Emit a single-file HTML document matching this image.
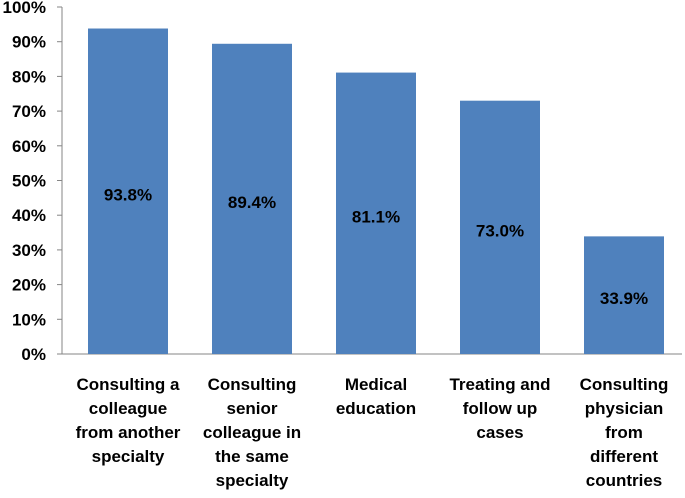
<!DOCTYPE html>
<html><head><meta charset="utf-8"><style>
body{margin:0;background:#fff;}
svg{display:block;font-family:"Liberation Sans",Arial,sans-serif;font-weight:bold;}
</style></head><body>
<svg id="chart" width="685" height="498"></svg>
<script>
const categories=[["Consulting a","colleague","from another","specialty"],["Consulting","senior","colleague in","the same","specialty"],["Medical","education"],["Treating and","follow up","cases"],["Consulting","physician","from","different","countries"]];
const values=[93.8,89.4,81.1,73.0,33.9];
const valueLabels=["93.8%","89.4%","81.1%","73.0%","33.9%"];
const yTicks=[0,10,20,30,40,50,60,70,80,90,100];
const yTickLabels=["0%","10%","20%","30%","40%","50%","60%","70%","80%","90%","100%"];
const NS="http://www.w3.org/2000/svg";
const svg=document.getElementById('chart');
const x0=62,x1=682,yTop=7,yBot=354;
const bw=(x1-x0)/values.length;
function y(v){return yBot-(v/100)*(yBot-yTop);}
function xc(i){return x0+4+bw*(i+0.5);}
function mk(t,a,p){const e=document.createElementNS(NS,t);for(const k in a)e.setAttribute(k,a[k]);(p||svg).appendChild(e);return e;}
const ax=mk('g',{});


mk('line',{x1:x0,y1:yTop,x2:x0,y2:yBot,stroke:'#868686','stroke-width':1},ax);
mk('line',{x1:x0,y1:yBot,x2:x1,y2:yBot,stroke:'#868686','stroke-width':1},ax);
yTicks.forEach((t,i)=>{
  mk('line',{x1:x0-5,y1:y(t),x2:x0,y2:y(t),stroke:'#868686'},ax);
  const tx=mk('text',{x:46,y:y(t)+6,'text-anchor':'end','font-size':17,fill:'#000'},ax);
  
  
  tx.textContent=yTickLabels[i];
});
values.forEach((v,i)=>{
  const r=mk('rect',{x:xc(i)-40,y:y(v),width:80,height:yBot-y(v),fill:'#4f81bd'});
  
  
  const t=mk('text',{x:xc(i),y:(y(v)+yBot)/2+9,'text-anchor':'middle','font-size':17,fill:'#000'});
  
  
  t.textContent=valueLabels[i];
  const g=mk('text',{'text-anchor':'middle','font-size':17,fill:'#000'});
  
  
  categories[i].forEach((ln,j)=>{const s=mk('tspan',{x:xc(i),y:390+j*24},g);s.textContent=ln;});
});
</script>
</body></html>
